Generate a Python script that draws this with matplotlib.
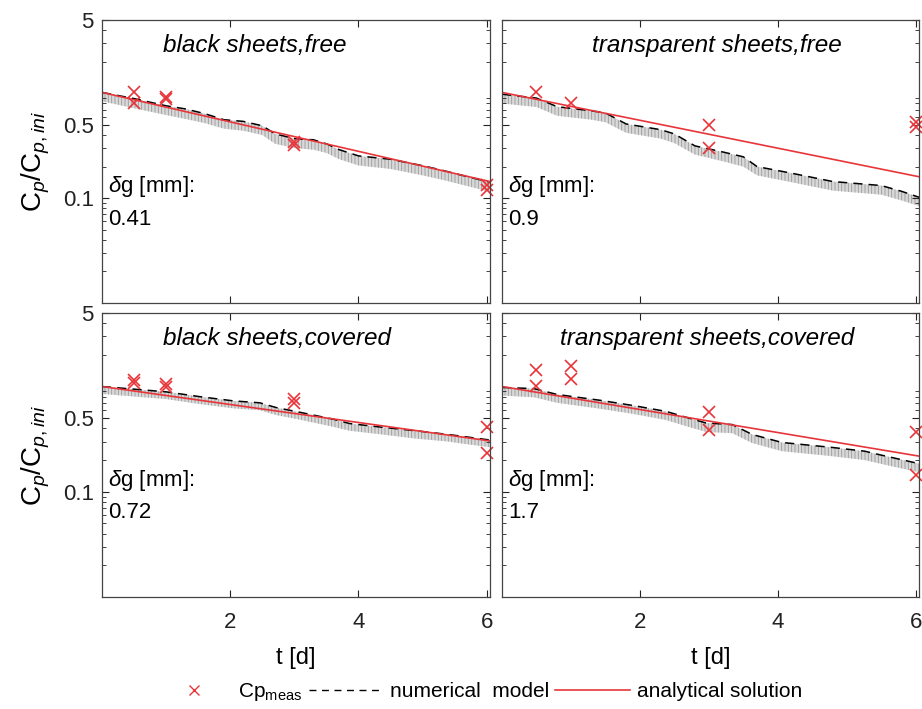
import numpy as np
import matplotlib
matplotlib.use("Agg")
import matplotlib.pyplot as plt
import matplotlib.transforms as mtransforms
from matplotlib.ticker import FixedLocator, LogLocator, NullFormatter
from matplotlib.lines import Line2D

plt.rcParams['font.family'] = ['Liberation Sans', 'DejaVu Sans']
plt.rcParams['mathtext.fontset'] = 'custom'
plt.rcParams['mathtext.rm'] = 'Liberation Sans'
plt.rcParams['mathtext.it'] = 'Liberation Sans:italic'
plt.rcParams['hatch.linewidth'] = 0.6

# black sheets, free
num_t_bf = [0, 0.5, 1.0, 1.3, 1.6, 1.9, 2.2, 2.5, 2.7, 3.0, 3.3, 3.5, 3.7, 4.0, 4.5, 5.0, 5.3, 5.6, 6.05]
num_bf = [1.02, 0.89, 0.76, 0.71, 0.64, 0.56, 0.54, 0.49, 0.41, 0.37, 0.36, 0.33, 0.29, 0.253, 0.235, 0.204, 0.185, 0.166, 0.142]
low_bf = [0.84, 0.72, 0.62, 0.57, 0.52, 0.46, 0.44, 0.40, 0.33, 0.30, 0.29, 0.27, 0.235, 0.205, 0.19, 0.165, 0.15, 0.135, 0.115]
meas_t_bf = [0.5, 0.5, 1, 1, 3, 3, 6, 6]
meas_bf = [1.04, 0.80, 0.925, 0.89, 0.343, 0.32, 0.134, 0.119]
ana_bf = [1.02, 0.144]

# transparent sheets, free
num_t_tf = [0, 0.5, 0.8, 1.3, 1.5, 1.8, 2.3, 2.5, 2.8, 3.2, 3.5, 3.7, 4.2, 4.8, 5.5, 5.8, 6.05]
num_tf = [0.98, 0.90, 0.745, 0.68, 0.65, 0.51, 0.45, 0.41, 0.315, 0.276, 0.248, 0.20, 0.173, 0.144, 0.132, 0.116, 0.102]
low_tf = [0.80, 0.74, 0.61, 0.56, 0.53, 0.42, 0.37, 0.335, 0.26, 0.225, 0.20, 0.165, 0.142, 0.118, 0.108, 0.095, 0.084]
meas_t_tf = [0.5, 1, 3, 3, 6, 6]
meas_tf = [1.02, 0.81, 0.50, 0.30, 0.53, 0.475]
ana_tf = [1.02, 0.160]

# black sheets, covered
num_t_bc = [0, 1.0, 1.53, 2.05, 2.46, 2.72, 3.08, 3.6, 3.86, 4.37, 4.89, 5.4, 5.56, 6.05]
num_bc = [1.0, 0.89, 0.80, 0.73, 0.70, 0.63, 0.57, 0.49, 0.445, 0.41, 0.38, 0.35, 0.34, 0.31]
low_bc = [0.85, 0.76, 0.68, 0.62, 0.595, 0.535, 0.485, 0.415, 0.38, 0.35, 0.32, 0.30, 0.29, 0.265]
meas_t_bc = [0.5, 0.5, 1, 1, 3, 3, 6, 6]
meas_bc = [1.16, 1.09, 1.05, 0.995, 0.757, 0.70, 0.41, 0.233]
ana_bc = [1.0, 0.304]

# transparent sheets, covered
num_t_tc = [0, 0.465, 0.80, 1.42, 1.90, 2.38, 2.67, 2.96, 3.34, 3.63, 4.06, 4.78, 5.26, 5.50, 6.05]
num_tc = [0.98, 0.955, 0.84, 0.74, 0.66, 0.58, 0.51, 0.45, 0.435, 0.35, 0.294, 0.264, 0.243, 0.223, 0.185]
low_tc = [0.82, 0.79, 0.70, 0.615, 0.55, 0.48, 0.42, 0.37, 0.36, 0.29, 0.243, 0.218, 0.20, 0.184, 0.153]
meas_t_tc = [0.5, 0.5, 1, 1, 3, 3, 6, 6]
meas_tc = [1.42, 1.02, 1.55, 1.17, 0.57, 0.39, 0.37, 0.144]
ana_tc = [1.0, 0.218]

ana_t = [0, 6.05]
titles = ['black sheets,free', 'transparent sheets,free', 'black sheets,covered', 'transparent sheets,covered']
dg = ['0.41', '0.9', '0.72', '1.7']

panels = [
    (num_t_bf, num_bf, low_bf, meas_t_bf, meas_bf, ana_bf),
    (num_t_tf, num_tf, low_tf, meas_t_tf, meas_tf, ana_tf),
    (num_t_bc, num_bc, low_bc, meas_t_bc, meas_bc, ana_bc),
    (num_t_tc, num_tc, low_tc, meas_t_tc, meas_tc, ana_tc),
]

red = '#e8353a'
fig = plt.figure(figsize=(9.22, 7.09), dpi=100)

rects = [
    [0.1106, 0.5726, 0.4208, 0.3992],
    [0.5445, 0.5726, 0.4523, 0.3992],
    [0.1106, 0.1580, 0.4208, 0.4006],
    [0.5445, 0.1580, 0.4523, 0.4006],
]
title_x = [0.157, 0.216, 0.157, 0.139]

for i, (rect, data) in enumerate(zip(rects, panels)):
    nt, nv, lo, mt, mv, av = data
    ax = fig.add_axes(rect)
    ax.set_yscale('log')
    ax.fill_between(nt, lo, nv, facecolor='#d9d9d9', edgecolor='#9a9a9a',
                    hatch='|||||', linewidth=0)
    ax.plot(nt, nv, color='black', linestyle=(0, (6, 4)), linewidth=1.1)
    ax.plot(ana_t, av, color=red, linewidth=1.2)
    ax.plot(mt, mv, linestyle='none', marker='x', color=red, markersize=9,
            markeredgewidth=1.2, clip_on=False)
    ax.set_xlim(0, 6.05)
    ax.set_ylim(0.01, 5)
    ax.xaxis.set_major_locator(FixedLocator([2, 4, 6]))
    ax.yaxis.set_major_locator(FixedLocator([0.1, 0.5, 5]))
    ax.yaxis.set_minor_locator(LogLocator(base=10, subs=np.arange(2, 10)))
    ax.yaxis.set_minor_formatter(NullFormatter())
    ax.tick_params(direction='in', which='both', top=True, right=True,
                   labelsize=16, colors='#222222')
    ax.tick_params(axis='y', pad=6)
    ax.tick_params(axis='x', pad=11)
    ax.tick_params(which='major', length=5, width=0.8)
    ax.tick_params(which='minor', length=3, width=0.6)
    for s in ax.spines.values():
        s.set_color('#444444')
        s.set_linewidth(0.9)
    if i % 2 == 0:
        ax.set_yticklabels(['0.1', '0.5', '5'])
        ax.set_ylabel(r'C$_{\it p}$/C$_{\it p,ini}$', fontsize=20, labelpad=8)
    else:
        ax.set_yticklabels([])
    if i >= 2:
        ax.set_xticklabels(['2', '4', '6'])
        ax.set_xlabel('t [d]', fontsize=17, labelpad=10)
    else:
        ax.set_xticklabels([])
    ax.text(title_x[i], 0.91, titles[i], transform=ax.transAxes, fontsize=17.5,
            style='italic', va='center', ha='left')
    trans = mtransforms.blended_transform_factory(ax.transAxes, ax.transData)
    ax.text(0.015, 0.128, r'$\delta$g [mm]:', transform=trans,
            fontsize=16, va='center', ha='left')
    ax.text(0.015, 0.063, dg[i], transform=trans,
            fontsize=16, va='center', ha='left')

handles = [
    Line2D([], [], linestyle='none', marker='x', color=red, markersize=7, markeredgewidth=1),
    Line2D([], [], color='black', linestyle=(0, (5, 4)), linewidth=1),
    Line2D([], [], color=red, linewidth=1.2),
]
labels = [r'Cp$_{\rm meas}$', 'numerical  model', 'analytical solution']
fig.legend(handles, labels, loc='lower center', bbox_to_anchor=(0.52, -0.018),
           ncol=3, frameon=False, fontsize=15, handlelength=3.6,
           columnspacing=0.3, handletextpad=0.3)

fig.savefig('out.png', dpi=100)
